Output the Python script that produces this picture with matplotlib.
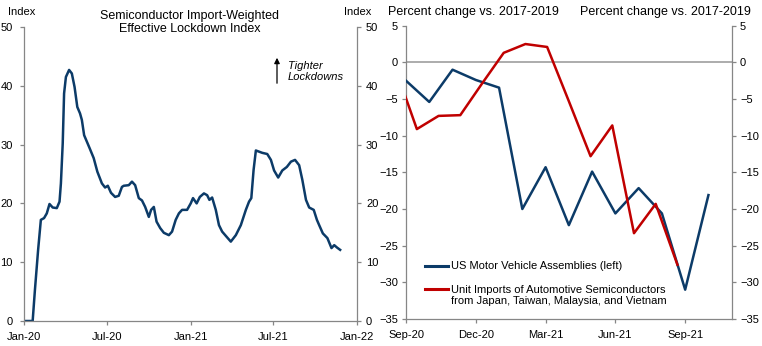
import matplotlib
matplotlib.use("Agg")
import matplotlib.pyplot as plt
import matplotlib.dates as mdates
import numpy as np
import pandas as pd

plt.rcParams['font.family'] = ['Liberation Sans', 'DejaVu Sans']
plt.rcParams['font.size'] = 8

# effective lockdown index, days since 2020-01-01
lock_day = [0, 19, 24, 31, 37, 44, 50, 56, 63, 72, 78, 81, 85, 88, 92, 99, 105, 111,
            117, 123, 127, 132, 138, 144, 153, 161, 171, 178, 184, 191, 200, 208, 215,
            219, 230, 237, 244, 252, 259, 266, 274, 279, 285, 291, 299, 307, 318, 325,
            333, 340, 347, 358, 366, 371, 379, 386, 395, 402, 407, 413, 421, 428, 435,
            445, 454, 465, 476, 487, 494, 499, 504, 509, 516, 523, 534, 542, 549, 558,
            567, 577, 586, 595, 604, 611, 619, 626, 636, 643, 648, 656, 666, 675, 681,
            687, 694]
lock_val = [0, 0, 5.3, 12.1, 17.2, 17.5, 18.3, 19.9, 19.3, 19.2, 20.3, 23.4, 30.2, 38.7,
            41.5, 42.7, 42.1, 39.8, 36.4, 35.3, 34.2, 31.6, 30.5, 29.4, 27.7, 25.4, 23.4,
            22.7, 23.0, 21.8, 21.1, 21.3, 22.8, 23.0, 23.1, 23.7, 23.1, 20.9, 20.5, 19.4,
            17.7, 18.9, 19.4, 16.9, 15.8, 15.0, 14.6, 15.2, 17.2, 18.3, 18.9, 18.9, 20.0,
            20.9, 20.0, 21.1, 21.7, 21.4, 20.6, 21.0, 18.9, 16.3, 15.2, 14.3, 13.5, 14.6,
            16.3, 18.9, 20.3, 20.9, 25.7, 29.0, 28.8, 28.6, 28.4, 27.4, 25.6, 24.4, 25.6,
            26.2, 27.1, 27.4, 26.5, 24.0, 20.6, 19.3, 18.9, 17.2, 16.3, 14.9, 14.1, 12.4,
            12.9, 12.5, 12.1]

# monthly series, Sep-20 .. Oct-21
month_labels = ['Sep-20', 'Oct-20', 'Nov-20', 'Dec-20', 'Jan-21', 'Feb-21', 'Mar-21',
                'Apr-21', 'May-21', 'Jun-21', 'Jul-21', 'Aug-21', 'Sep-21', 'Oct-21']
assemblies = [-2.5, -5.4, -1.0, -2.4, -3.45, -20.0, -14.3, -22.2, -14.9, -20.6, -17.15,
              -20.6, -31.0, -18.1]
# semiconductor imports sit on their own 15-slot category axis
chip_slot = np.arange(-1, 13)
chip_imports = [-0.7, -9.1, -7.3, -7.2, -2.9, 1.3, 2.5, 2.1, -5.3, -12.8, -8.6, -23.3,
                -19.3, -27.6]

navy = '#0C3B68'
red = '#C00000'
grey = '#868686'
W, H = 762, 346

fig = plt.figure(figsize=(W / 100, H / 100), dpi=100)


def style(ax, sides):
    for s in ['top', 'left', 'right', 'bottom']:
        ax.spines[s].set_visible(s in sides)
        ax.spines[s].set_color(grey)
        ax.spines[s].set_linewidth(0.9)
    ax.tick_params(colors=grey, labelcolor='black', length=3, width=0.9,
                   direction='out', labelsize=8)


# ---- left panel: lockdown index ----
ax1 = fig.add_axes([24 / W, 1 - 321 / H, 333 / W, 294 / H])
dates = pd.Timestamp('2020-01-01') + pd.to_timedelta(lock_day, unit='D')
ax1.plot(dates, lock_val, color=navy, lw=1.8, solid_joinstyle='round')
ax1.set_xlim(pd.Timestamp('2020-01-01'), pd.Timestamp('2022-01-01'))
ax1.set_ylim(0, 50)
ax1.set_yticks(range(0, 51, 10))
ax1.set_xticks(pd.to_datetime(['2020-01-01', '2020-07-01', '2021-01-01',
                               '2021-07-01', '2022-01-01']))
ax1.xaxis.set_major_formatter(mdates.DateFormatter('%b-%y'))
style(ax1, ['left', 'bottom'])
ax1.tick_params(axis='y', pad=5)
ax1.tick_params(axis='x', pad=5)

ax1r = ax1.twinx()
ax1r.set_ylim(0, 50)
ax1r.set_yticks(range(0, 51, 10))
style(ax1r, ['right'])
ax1r.tick_params(axis='y', pad=3.5)

fig.text(8 / W, 1 - 12 / H, 'Index', ha='left', va='center')
fig.text(371 / W, 1 - 12 / H, 'Index', ha='right', va='center')
fig.text(190 / W, 1 - 22.5 / H, 'Semiconductor Import-Weighted\nEffective Lockdown Index',
         ha='center', va='center', linespacing=1.1, fontsize=9)
fig.add_artist(matplotlib.patches.FancyArrowPatch(
    (277 / W, 1 - 86 / H), (277 / W, 1 - 55 / H), transform=fig.transFigure,
    arrowstyle='-|>', mutation_scale=8, color='black', lw=0.9))
fig.text(288 / W, 1 - 71.5 / H, 'Tighter\nLockdowns', ha='left', va='center',
         style='italic', linespacing=1.2)

# ---- right panel: assemblies vs chip imports ----
ax2 = fig.add_axes([406 / W, 1 - 319 / H, 325.7 / W, 293.3 / H])
ax2.axhline(0, color='#A6A6A6', lw=1.3, zorder=1)
ax2.plot(np.arange(len(assemblies)), assemblies, color=navy, lw=1.8, zorder=3)
ax2.set_xlim(0, 14)
ax2.set_ylim(-35, 5)
ax2.set_yticks(range(-35, 6, 5))
ax2.set_xticks(range(0, 14, 3))
ax2.set_xticklabels(month_labels[::3])
style(ax2, ['left', 'bottom'])
ax2.tick_params(axis='y', pad=2.7)
ax2.tick_params(axis='x', pad=5)

ax2r = ax2.twinx()
ax2r.set_ylim(-35, 5)
ax2r.set_yticks(range(-35, 6, 5))
style(ax2r, ['right'])
ax2r.tick_params(axis='y', pad=3)

ax2c = ax2r.twiny()
ax2c.set_xlim(0, 15)
ax2c.xaxis.set_visible(False)
for s in ax2c.spines.values():
    s.set_visible(False)
ax2c.plot(chip_slot + 0.5, chip_imports, color=red, lw=1.8)

fig.text(388 / W, 1 - 11.5 / H, 'Percent change vs. 2017-2019', ha='left', va='center',
         fontsize=9)
fig.text(751 / W, 1 - 11.5 / H, 'Percent change vs. 2017-2019', ha='right', va='center',
         fontsize=9)

# legend
ax2.plot([0.058, 0.129], [0.182, 0.182], transform=ax2.transAxes, color=navy, lw=2.2,
         clip_on=False)
ax2.text(0.138, 0.182, 'US Motor Vehicle Assemblies (left)', transform=ax2.transAxes,
         ha='left', va='center')
ax2.plot([0.058, 0.129], [0.102, 0.102], transform=ax2.transAxes, color=red, lw=2.2,
         clip_on=False)
ax2.text(0.138, 0.081, 'Unit Imports of Automotive Semiconductors\n'
         'from Japan, Taiwan, Malaysia, and Vietnam', transform=ax2.transAxes,
         ha='left', va='center', linespacing=1.15)

fig.savefig('out.png', dpi=100)
